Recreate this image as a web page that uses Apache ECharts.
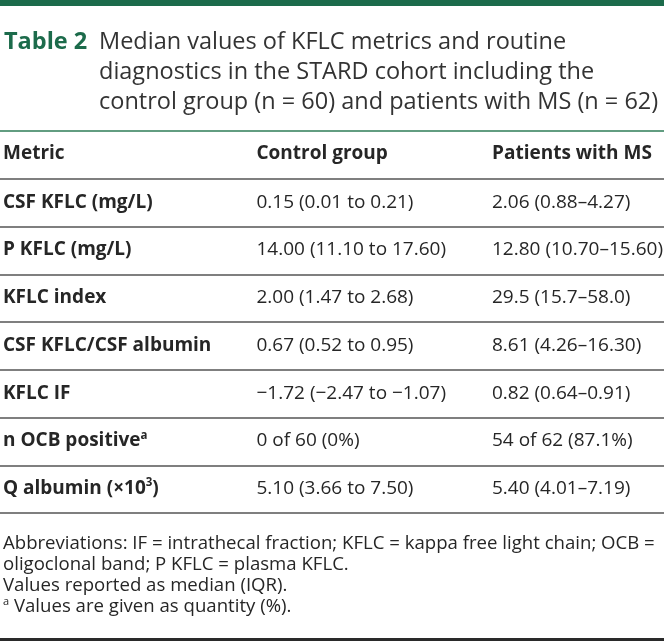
<!DOCTYPE html>
<html><head><meta charset="utf-8">
<script src="https://cdn.jsdelivr.net/npm/echarts@6/dist/echarts.min.js"></script>
<style>html,body{margin:0;padding:0;background:#fff}#c{width:664px;height:641px}</style>
</head><body><div id="c"></div>
<script>
// ---- data ----
const titleLabel = 'Table 2';
const titleLines = [
  'Median values of KFLC metrics and routine',
  'diagnostics in the STARD cohort including the',
  'control group (n = 60) and patients with MS (n = 62)'
];
const columns = ['Metric', 'Control group', 'Patients with MS'];
const metrics = ['CSF KFLC (mg/L)', 'P KFLC (mg/L)', 'KFLC index', 'CSF KFLC/CSF albumin', 'KFLC IF', 'n OCB positive^a', 'Q albumin (×10^3)'];
const controlGroup = ['0.15 (0.01 to 0.21)', '14.00 (11.10 to 17.60)', '2.00 (1.47 to 2.68)', '0.67 (0.52 to 0.95)', '−1.72 (−2.47 to −1.07)', '0 of 60 (0%)', '5.10 (3.66 to 7.50)'];
const patientsMS = ['2.06 (0.88–4.27)', '12.80 (10.70–15.60)', '29.5 (15.7–58.0)', '8.61 (4.26–16.30)', '0.82 (0.64–0.91)', '54 of 62 (87.1%)', '5.40 (4.01–7.19)'];
const footnotes = [
  'Abbreviations: IF = intrathecal fraction; KFLC = kappa free light chain; OCB =',
  'oligoclonal band; P KFLC = plasma KFLC.',
  'Values reported as median (IQR).',
  '^a Values are given as quantity (%).'
];

// ---- layout / style ----
const FONT = '"Open Sans", sans-serif';
const GREEN = '#1c6b4b';
const TEXT = '#262626';
const colX = [3, 256.5, 492];
const sup = s => s.replace(/\^(\w)/g, '{sup|$1}');

const rowKeys = [columns[0]].concat(metrics);
function cellText(r, c) {
  if (r === 0) return columns[c];
  return [metrics, controlGroup, patientsMS][c][r - 1];
}
const cells = [];
for (let r = 0; r < rowKeys.length; r++) for (let c = 0; c < columns.length; c++) cells.push([c, r]);

const chart = echarts.init(document.getElementById('c'), null, {renderer: 'canvas'});
chart.setOption({
  animation: false,
  backgroundColor: '#fff',
  title: [
    {text: titleLabel, left: 4, top: 27, padding: 0,
     textStyle: {fontFamily: FONT, fontSize: 23.5, fontWeight: 'bold', color: GREEN, lineHeight: 30}},
    {text: titleLines.join('\n'), left: 99, top: 27, padding: 0,
     textStyle: {fontFamily: FONT, fontSize: 23.5, fontWeight: 'normal', color: '#333', lineHeight: 30}},
    {text: footnotes.map(sup).join('\n'), left: 3, top: 533, padding: 0,
     textStyle: {fontFamily: FONT, fontSize: 18.6, fontWeight: 'normal', color: TEXT, lineHeight: 21,
       rich: {sup: {fontFamily: FONT, fontSize: 11, color: TEXT, verticalAlign: 'top', lineHeight: 16}}}}
  ],
  graphic: [
    {type: 'rect', left: 0, top: 0, shape: {width: 664, height: 6}, style: {fill: GREEN}},
    {type: 'rect', left: 0, top: 638, shape: {width: 664, height: 3}, style: {fill: '#2a2a2a'}}
  ],
  grid: {left: 0, right: 0, top: 131, bottom: 128},
  xAxis: {type: 'value', min: 0, max: 664, show: true, axisLine: {show: false}, axisTick: {show: false},
          axisLabel: {show: false}, splitLine: {show: false}},
  yAxis: {type: 'category', inverse: true, data: rowKeys,
          axisLine: {show: false}, axisTick: {show: false}, axisLabel: {show: false},
          splitLine: {show: true, interval: 0,
            lineStyle: {width: 1.6, color: ['#2e7d57', '#555', '#555', '#555', '#555', '#555', '#555', '#555', '#555']}}},
  series: [{
    type: 'custom',
    data: cells,
    renderItem: function (params, api) {
      const c = api.value(0), r = api.value(1);
      const p = api.coord([colX[c], r]);
      const bold = r === 0 || c === 0;
      return {
        type: 'text',
        x: p[0], y: p[1] + (r === 0 ? -1.5 : -0.5),
        style: {
          text: sup(cellText(r, c)),
          fill: TEXT,
          fontFamily: FONT, fontSize: 19, fontWeight: bold ? 'bold' : 'normal',
          align: 'left', verticalAlign: 'middle', lineHeight: 23,
          rich: {sup: {fontFamily: FONT, fontSize: 11.5, fontWeight: bold ? 'bold' : 'normal', fill: TEXT, verticalAlign: 'top', lineHeight: 14}}
        }
      };
    }
  }]
});
</script></body></html>
